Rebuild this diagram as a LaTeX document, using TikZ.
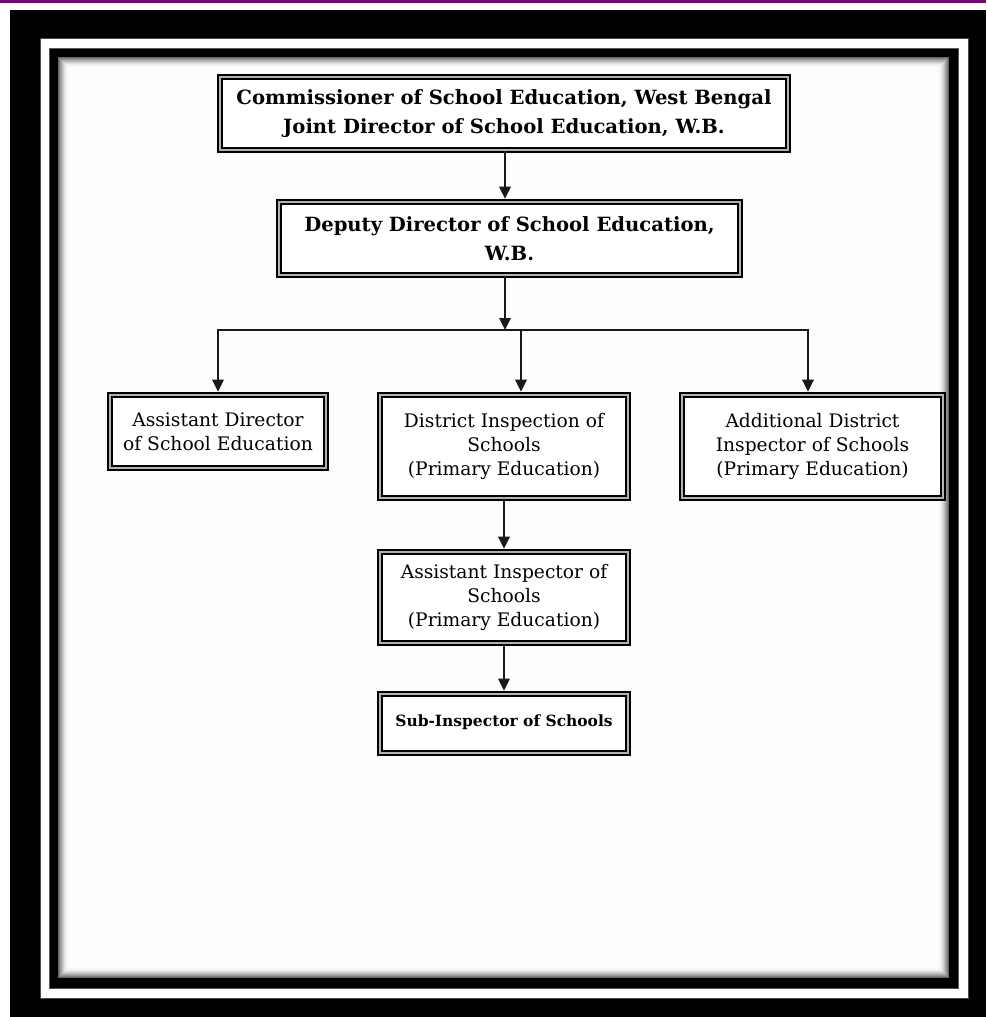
\documentclass[tikz,border=0pt]{standalone}
\usepackage{fontspec}
\setmainfont{DejaVu Serif}
\usetikzlibrary{arrows.meta}
\definecolor{purp}{RGB}{128,0,128}
\begin{document}
\begin{tikzpicture}[x=0.75pt,y=-0.75pt,
  box/.style={draw=black, line width=1.4pt, double=gray!60, double distance=1.3pt, fill=white, inner sep=0pt, align=center},
  arr/.style={draw=black!90, line width=1.7pt, -{Triangle[width=8.5pt,length=9pt]}, shorten >=1.8pt},
  bt/.style={font=\bfseries\fontsize{14.7}{22}\selectfont},
  rt/.style={font=\fontsize{14}{17.8}\selectfont},
  st/.style={font=\bfseries\fontsize{11.6}{14}\selectfont}]
% frame
\useasboundingbox (0,0) rectangle (986,1017);
\fill[white] (0,0) rectangle (986,1017);
\fill[purp] (0,0) rectangle (986,3);
\fill[black] (10,10) rectangle (986,1017);
\fill[white] (40,38) rectangle (968,998);
\draw[black!70, line width=0.75pt] (40,38) rectangle (968,998);
\fill[black] (49,48) rectangle (959,989);
\draw[black!65, line width=0.9pt] (49.5,48.5) rectangle (958.5,988.5);
\foreach \i/\c in {0/60,1/50,2/41,3/33,4/26,5/19,6/13,7/8,8/5,9/3,10/1.5,11/0.8}
  {\fill[black!\c] (58+\i,57+\i) rectangle (949-\i,978-\i);}
% boxes
\node[box, minimum width=426pt, minimum height=54.75pt, bt] (top) at (504,113.5)
  {Commissioner of School Education, West Bengal\\Joint Director of School Education, W.B.};
\node[box, minimum width=345.75pt, minimum height=54.75pt, bt] (dep) at (509.5,238.5)
  {Deputy Director of School Education,\\W.B.};
\node[box, minimum width=162pt, minimum height=54.75pt, rt] (ad) at (218,431.5)
  {Assistant Director\\of School Education};
\node[box, minimum width=186pt, minimum height=77.25pt, rt] (di) at (504,446.5)
  {District Inspection of\\Schools\\(Primary Education)};
\node[box, minimum width=195.75pt, minimum height=77.25pt, rt] (adi) at (812.5,446.5)
  {Additional District\\Inspector of Schools\\(Primary Education)};
\node[box, minimum width=186pt, minimum height=68.25pt, rt] (ai) at (504,597.5)
  {Assistant Inspector of\\Schools\\(Primary Education)};
\node[box, minimum width=186pt, minimum height=44.25pt, st] (si) at (504,723.5)
  {\raisebox{4pt}{Sub-Inspector of Schools}};
% connectors
\coordinate (hd) at (505,330);
\coordinate (hm) at (521,330);
\coordinate (hr) at (808,330);
\draw[arr] (top.south -| hd) -- (dep.north -| hd);
\draw[arr, shorten >=0pt] (dep.south -| hd) -- (hd);
\draw[arr] (hd) -| (ad.north);
\draw[arr] (hd) -| (adi.north -| hr);
\draw[arr] (hm) -- (di.north -| hm);
\draw[arr, shorten <=1.8pt] (di) -- (ai);
\draw[arr, shorten <=1.8pt] (ai) -- (si);
\end{tikzpicture}
\end{document}
